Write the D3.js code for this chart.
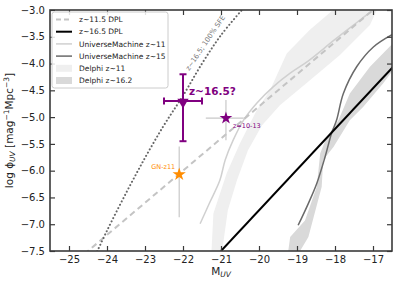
<!DOCTYPE html>
<html>
<head>
<meta charset="utf-8">
<script src="https://cdn.jsdelivr.net/npm/d3@7"></script>
<style>
  body { margin: 0; background: #fff; }
  text { font-family: "DejaVu Sans", sans-serif; }
</style>
</head>
<body>
<svg id="chart" width="398" height="286"></svg>
<script>
// values: [M_UV, log phi]
let dplZ115 = [[-24.6, -7.56], [-24, -7.2], [-23, -6.6], [-22, -6.0], [-21, -5.4], [-20, -4.8], [-19, -4.2], [-18, -3.6], [-17, -3.0]];
let dplZ165 = [[-21.0, -7.5], [-16.47, -4.06]];
let umZ11 = [[-21.55, -6.99], [-21.3, -6.6], [-21.03, -6.18], [-20.89, -5.8], [-20.68, -5.43], [-20.41, -5.06],
  [-20.06, -4.74], [-19.62, -4.43], [-19.18, -4.18], [-18.7, -3.95], [-18.0, -3.55], [-17.4, -3.22], [-17.0, -3.0]];
let umZ15 = [[-18.97, -7.02], [-18.7, -6.61], [-18.48, -6.24], [-18.26, -5.74], [-18.09, -5.3], [-17.96, -5.06],
  [-17.78, -4.56], [-17.43, -4.06], [-16.99, -3.69], [-16.5, -3.46]];
let sfeLine = [[-24.3, -7.57], [-24.0, -7.12], [-23.5, -6.42], [-23.0, -5.76], [-22.5, -5.15], [-22.0, -4.6],
  [-21.5, -4.0], [-21.0, -3.47], [-20.45, -3.0]];
let delphiZ11Upper = [[-21.25, -7.5], [-21.2, -6.8], [-20.85, -6.05], [-20.5, -5.49], [-20.06, -4.87], [-19.71, -4.5],
  [-19.27, -3.81], [-18.66, -3.37], [-18.05, -3.0]];
let delphiZ11Lower = [[-20.97, -7.5], [-20.82, -6.74], [-20.58, -6.18], [-20.29, -5.62], [-19.92, -5.15], [-19.45, -4.78],
  [-18.66, -4.31], [-17.87, -3.84], [-17.08, -3.28], [-16.9, -3.0]];
let delphiZ16Upper = [[-19.23, -7.5], [-19.18, -7.24], [-18.79, -6.93], [-18.48, -6.3], [-18.39, -5.68], [-18.22, -5.37],
  [-17.91, -5.06], [-17.61, -4.56], [-17.08, -4.06], [-16.47, -3.62]];
let delphiZ16Lower = [[-18.92, -7.5], [-18.7, -7.24], [-18.35, -6.3], [-18.31, -5.8], [-18.04, -5.56], [-17.61, -5.06],
  [-17.26, -4.81], [-16.73, -4.37], [-16.47, -4.12]];

// candidate at z~16.5: M, phi, xerr, yerr up, yerr down
let candidate = { M: -22.0, phi: -4.7, xerr: 0.5, up: 0.5, down: 0.75 };
let z1013 = { M: -20.87, phi: -5.02, xlo: -21.4, xhi: -20.4, ylo: -5.43, yhi: -4.68 };
let gnz11 = { M: -22.1, phi: -6.07, ylo: -6.87, yhi: -5.55 };

let xTicks = [-25, -24, -23, -22, -21, -20, -19, -18, -17];
let yTicks = [-7.5, -7.0, -6.5, -6.0, -5.5, -5.0, -4.5, -4.0, -3.5, -3.0];

let legendItems = [
  { label: "z~11.5 DPL", kind: "line", color: "#c4c4c4", width: 2, dash: "5,3" },
  { label: "z~16.5 DPL", kind: "line", color: "#000", width: 2, dash: null },
  { label: "UniverseMachine z~11", kind: "line", color: "#d0d0d0", width: 1.5, dash: null },
  { label: "UniverseMachine z~15", kind: "line", color: "#6a6a6a", width: 1.5, dash: null },
  { label: "Delphi z~11", kind: "patch", color: "#efefef" },
  { label: "Delphi z~16.2", kind: "patch", color: "#d9d9d9" }
];

let purple = "#800080";
let orange = "#ff8c00";

function drawChart() {
  let svg = d3.select("#chart");
  let left = 50, right = 392, top = 10, bottom = 251;

  let x = d3.scaleLinear().domain([-25.5, -16.5]).range([left, right]);
  let y = d3.scaleLinear().domain([-7.5, -3.0]).range([bottom, top]);

  svg.append("defs").append("clipPath").attr("id", "clip")
    .append("rect").attr("x", left).attr("y", top)
    .attr("width", right - left).attr("height", bottom - top);

  let plot = svg.append("g").attr("clip-path", "url(#clip)");

  let line = d3.line().x(d => x(d[0])).y(d => y(d[1]));
  let curved = d3.line().x(d => x(d[0])).y(d => y(d[1])).curve(d3.curveCatmullRom);

  function band(upper, lower) {
    let pts = upper.concat(lower.slice().reverse());
    return d3.line().x(d => x(d[0])).y(d => y(d[1])).curve(d3.curveLinearClosed)(pts);
  }

  // bands
  plot.append("path").attr("d", band(delphiZ11Upper, delphiZ11Lower)).attr("fill", "#efefef");
  plot.append("path").attr("d", band(delphiZ16Upper, delphiZ16Lower)).attr("fill", "#d9d9d9");

  // lines
  plot.append("path").attr("d", curved(umZ11)).attr("fill", "none")
    .attr("stroke", "#d0d0d0").attr("stroke-width", 1.5);
  plot.append("path").attr("d", line(dplZ115)).attr("fill", "none")
    .attr("stroke", "#c4c4c4").attr("stroke-width", 2).attr("stroke-dasharray", "6,4");
  plot.append("path").attr("d", curved(umZ15)).attr("fill", "none")
    .attr("stroke", "#6a6a6a").attr("stroke-width", 1.5);
  plot.append("path").attr("d", line(dplZ165)).attr("fill", "none")
    .attr("stroke", "#000").attr("stroke-width", 2);
  plot.append("path").attr("d", curved(sfeLine)).attr("fill", "none")
    .attr("stroke", "#666").attr("stroke-width", 2)
    .attr("stroke-dasharray", "0.1,3.6").attr("stroke-linecap", "round");

  // SFE label along dotted line
  let ang = Math.atan2(y(-3.6) - y(-4.6), x(-21.05) - x(-22.0)) * 180 / Math.PI;
  plot.append("text")
    .attr("transform", `translate(${x(-21.6) - 9},${y(-4.12) + 1}) rotate(${ang})`)
    .attr("font-size", 7).attr("fill", "#777")
    .text("z~16.5; 100% SFE");

  // grey error bars
  let eb = plot.append("g").attr("stroke", "#c8c8c8").attr("stroke-width", 1.2);
  eb.append("line").attr("x1", x(z1013.M)).attr("x2", x(z1013.M)).attr("y1", y(z1013.ylo)).attr("y2", y(z1013.yhi));
  eb.append("line").attr("x1", x(z1013.xlo)).attr("x2", x(z1013.xhi)).attr("y1", y(z1013.phi)).attr("y2", y(z1013.phi));
  eb.append("line").attr("x1", x(gnz11.M)).attr("x2", x(gnz11.M)).attr("y1", y(gnz11.ylo)).attr("y2", y(gnz11.yhi));

  // candidate error bar
  let c = candidate;
  let cb = plot.append("g").attr("stroke", purple).attr("stroke-width", 2);
  cb.append("line").attr("x1", x(c.M)).attr("x2", x(c.M)).attr("y1", y(c.phi - c.down)).attr("y2", y(c.phi + c.up));
  cb.append("line").attr("x1", x(c.M - c.xerr)).attr("x2", x(c.M + c.xerr)).attr("y1", y(c.phi)).attr("y2", y(c.phi));
  let cap = 3.5;
  [c.phi - c.down, c.phi + c.up].forEach(v => {
    cb.append("line").attr("x1", x(c.M) - cap).attr("x2", x(c.M) + cap).attr("y1", y(v)).attr("y2", y(v));
  });
  [c.M - c.xerr, c.M + c.xerr].forEach(v => {
    cb.append("line").attr("x1", x(v)).attr("x2", x(v)).attr("y1", y(c.phi) - cap).attr("y2", y(c.phi) + cap);
  });
  plot.append("path").attr("d", d3.symbol(d3.symbolTriangle, 55)())
    .attr("transform", `translate(${x(c.M)},${y(c.phi) + 1}) rotate(180)`)
    .attr("fill", purple);

  // stars
  plot.append("path").attr("d", d3.symbol(d3.symbolStar, 50)())
    .attr("transform", `translate(${x(z1013.M)},${y(z1013.phi)})`).attr("fill", purple);
  plot.append("path").attr("d", d3.symbol(d3.symbolStar, 55)())
    .attr("transform", `translate(${x(gnz11.M)},${y(gnz11.phi)})`).attr("fill", orange);

  // annotations
  plot.append("text").attr("x", x(c.M) + 6).attr("y", y(c.phi) - 6)
    .attr("font-size", 10.5).attr("font-weight", "bold").attr("fill", purple).text("z~16.5?");
  plot.append("text").attr("x", x(z1013.M) + 7).attr("y", y(z1013.phi) + 10)
    .attr("font-size", 6.5).attr("font-family", "DejaVu Serif").attr("fill", purple).text("z=10-13");
  plot.append("text").attr("x", x(gnz11.M) - 4).attr("y", y(gnz11.phi) - 5)
    .attr("text-anchor", "end").attr("font-size", 6.5).attr("fill", orange).text("GN-z11");

  // axes, ticks inward on all sides
  let axCol = "#3a3a3a";
  let tl = 5;
  let axes = svg.append("g");
  axes.append("g").attr("transform", `translate(0,${bottom})`)
    .call(d3.axisBottom(x).tickValues(xTicks).tickSizeInner(-tl).tickSizeOuter(0).tickPadding(5)
      .tickFormat(d => d3.format("d")(d).replace("-", "\u2212")));
  axes.append("g").attr("transform", `translate(0,${top})`)
    .call(d3.axisTop(x).tickValues(xTicks).tickSizeInner(-tl).tickSizeOuter(0).tickFormat(""));
  axes.append("g").attr("transform", `translate(${left},0)`)
    .call(d3.axisLeft(y).tickValues(yTicks).tickSizeInner(-tl).tickSizeOuter(0).tickPadding(5)
      .tickFormat(d => d3.format(".1f")(d).replace("-", "\u2212")));
  axes.append("g").attr("transform", `translate(${right},0)`)
    .call(d3.axisRight(y).tickValues(yTicks).tickSizeInner(-tl).tickSizeOuter(0).tickFormat(""));
  axes.selectAll(".domain").remove();
  axes.selectAll(".tick line").attr("stroke", axCol).attr("stroke-width", 1.2);
  axes.selectAll(".tick text").attr("font-size", 10).attr("fill", "#222").attr("font-family", "DejaVu Sans");
  svg.append("rect").attr("x", left).attr("y", top).attr("width", right - left).attr("height", bottom - top)
    .attr("fill", "none").attr("stroke", axCol).attr("stroke-width", 1.6);

  // axis labels
  let xl = svg.append("text").attr("x", (left + right) / 2).attr("y", 275)
    .attr("text-anchor", "middle").attr("font-size", 10.5).attr("fill", "#222");
  xl.append("tspan").text("M");
  xl.append("tspan").attr("font-size", 7.5).attr("font-style", "italic").attr("dy", 2).text("UV");

  let yl = svg.append("text").attr("transform", `translate(13,${(top + bottom) / 2}) rotate(-90)`)
    .attr("text-anchor", "middle").attr("font-size", 10.5).attr("fill", "#222");
  yl.append("tspan").text("log \u03D5");
  yl.append("tspan").attr("font-size", 7.5).attr("font-style", "italic").attr("dy", 2).text("UV");
  yl.append("tspan").attr("dy", -2).text(" [mag");
  yl.append("tspan").attr("font-size", 7.5).attr("dy", -4).text("\u22121");
  yl.append("tspan").attr("dy", 4).text("Mpc");
  yl.append("tspan").attr("font-size", 7.5).attr("dy", -4).text("\u22123");
  yl.append("tspan").attr("dy", 4).text("]");

  // legend
  let lg = svg.append("g").attr("transform", "translate(52,12)");
  lg.append("rect").attr("width", 116).attr("height", 76).attr("rx", 2.5)
    .attr("fill", "#fff").attr("fill-opacity", 0.85).attr("stroke", "#cccccc").attr("stroke-width", 1);
  let rows = lg.selectAll("g.row").data(legendItems).enter().append("g")
    .attr("transform", (d, i) => `translate(0,${7.5 + i * 12.2})`);
  rows.filter(d => d.kind === "line").append("line")
    .attr("x1", 4).attr("x2", 20).attr("y1", 0).attr("y2", 0)
    .attr("stroke", d => d.color).attr("stroke-width", d => d.width)
    .attr("stroke-dasharray", d => d.dash);
  rows.filter(d => d.kind === "patch").append("rect")
    .attr("x", 4).attr("y", -3.5).attr("width", 16).attr("height", 7).attr("fill", d => d.color);
  rows.append("text").attr("x", 27).attr("y", 2.7).attr("font-size", 7.5).attr("fill", "#222")
    .text(d => d.label);
}

drawChart();
</script>
</body>
</html>
